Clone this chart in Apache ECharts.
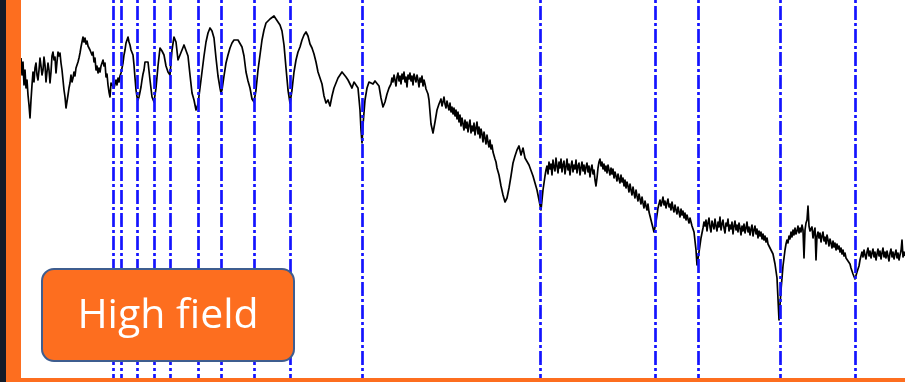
<!DOCTYPE html>
<html>
<head>
<meta charset="utf-8">
<script src="https://cdn.jsdelivr.net/npm/echarts@6/dist/echarts.min.js"></script>
<style>
  html, body { margin: 0; padding: 0; background: #ffffff; }
  #chart { width: 905px; height: 382px; }
</style>
</head>
<body>
<div id="chart"></div>
<script>
// Transmission spectrum: [field channel, signal (arbitrary units)]
const spectrum = [
  [0,320],[1,303],[2,316],[3,293],[4,308],[5,290],[6,298],[7,283],[8,273],[9,260],
  [10,278],[11,293],[12,306],[13,296],[14,310],[15,315],[16,303],[17,298],[18,308],[19,320],
  [20,312],[21,303],[22,308],[23,321],[24,313],[25,296],[26,306],[27,315],[28,308],[29,295],
  [30,306],[31,322],[32,326],[33,318],[34,321],[35,305],[36,316],[37,326],[38,322],[39,325],
  [40,315],[41,308],[42,298],[43,288],[44,281],[45,270],[46,268],[47,283],[48,290],[49,295],
  [50,303],[51,296],[52,300],[53,306],[54,302],[55,310],[56,312],[57,316],[58,320],[59,325],
  [60,331],[61,336],[62,341],[63,336],[64,340],[65,334],[66,337],[67,332],[68,334],[69,328],
  [70,330],[71,323],[72,326],[73,316],[74,320],[75,308],[76,312],[77,305],[78,310],[79,306],
  [80,312],[81,315],[82,318],[83,312],[84,315],[85,301],[86,304],[87,293],[88,286],[89,281],
  [90,295],[91,293],[92,296],[93,290],[94,294],[95,298],[96,293],[97,300],[98,296],[99,302],
  [100,305],[101,310],[102,315],[103,323],[104,328],[105,335],[106,338],[107,341],[108,336],[109,333],
  [110,328],[111,326],[112,323],[113,313],[114,300],[115,288],[116,281],[117,278],[118,281],[119,286],
  [120,291],[121,298],[122,304],[123,308],[124,316],
  [125,318],[127,316],[129,298],[131,281],[133,276],[135,290],[137,312],[139,330],[141,327],[143,323],
  [145,312],[147,306],[149,303],[151,328],[153,341],[155,336],[157,318],[159,320],[161,328],[163,333],
  [165,332],[167,322],[169,303],[171,285],[173,278],[175,268],[176,266],[177,274],[179,290],[181,306],
  [183,322],[185,336],[187,345],[189,350],[191,347],[193,340],[195,320],[197,302],[199,290],[200,285],
  [201,288],[203,302],[205,315],[207,323],[209,330],[211,335],[213,338],[215,340],[217,338],[219,337],
  [221,331],[223,322],[225,306],[227,297],[229,290],[231,279],[233,276],[235,288],[237,308],[239,323],
  [241,338],[243,348],[245,355],[247,357],[249,359],[251,360],[253,362],[255,359],[257,357],[259,353],
  [261,347],[263,333],[265,310],[267,288],[269,275],[271,288],[273,306],[275,318],[277,326],[279,331],
  [281,338],[283,343],[285,346],[287,342],[289,334],[291,330],[293,324],[295,316],[297,306],[299,300],
  [301,294],[303,282],[305,275],[307,278],[309,272],[311,282],[313,290],[315,295],[317,300],[319,303],
  [321,306],[323,304],[325,301],[327,298],[329,294],[331,290],[333,296],[335,296],[337,290],[339,268],
  [340,248],[341,235],[342,253],[344,278],[346,290],[348,296],[350,298],[352,294],[354,297],[356,299],
  [358,292],[360,280],[362,271],[364,276],[366,284],[368,290],
  [370,294],[371,300],[372,296],[373,303],[374,298],[375,292],[376,301],[377,305],[378,297],[379,302],
  [380,294],[381,304],[382,299],[383,306],[384,296],[385,301],[386,291],[387,303],[388,299],[389,305],
  [390,297],[391,302],[392,293],[393,304],[394,300],[395,296],[396,303],[397,298],[398,291],[399,300],
  [400,296],[401,302],[402,292],[403,298],[404,294],[405,289],[406,291],[407,284],[408,278],
  [410,254],[412,245],[414,256],[416,268],[418,274],
  [419,276],[420,279],[421,272],[422,276],[423,281],[424,274],[425,270],[426,277],[427,272],[428,268],
  [429,275],[430,266],[431,271],[432,264],[433,270],[434,262],[435,268],[436,259],[437,266],[438,256],
  [439,263],[440,252],[441,260],[442,254],[443,248],[444,258],[445,250],[446,256],[447,246],[448,253],
  [449,258],[450,245],[451,252],[452,247],[453,255],[454,243],[455,250],[456,256],[457,244],[458,251],
  [459,240],[460,249],[461,244],[462,236],[463,246],[464,240],[465,234],[466,243],[467,236],[468,231],
  [469,238],[470,229],[471,233],[472,226],[473,224],[474,219],[475,216],[476,210],
  [478,203],[480,192],[482,183],[484,176],[486,180],[488,190],[490,202],[492,215],[494,222],[496,228],
  [498,232],[500,223],[502,230],[504,220],[506,222],[508,213],[510,214],[512,202],[514,200],[516,188],
  [518,178],[520,168],[522,188],
  [524,202],[525,208],[526,212],[527,204],[528,216],[529,209],[530,214],[531,203],[532,218],[533,211],
  [534,207],[535,220],[536,212],[537,205],[538,216],[539,210],[540,219],[541,206],[542,213],[543,217],
  [544,204],[545,211],[546,219],[547,208],[548,214],[549,203],[550,212],[551,217],[552,206],[553,213],
  [554,209],[555,218],[556,205],[557,212],[558,215],[559,203],[560,210],[561,216],[562,207],[563,213],
  [564,204],[565,211],[566,215],[567,206],[568,212],[569,201],[570,209],[571,213],[572,204],[573,208],
  [574,198],[575,192],[576,200],[577,210],[578,216],[579,219],[580,212],[581,216],[582,209],[583,214],
  [584,207],[585,212],[586,205],[587,213],[588,208],[589,203],[590,210],[591,204],[592,209],[593,200],
  [594,206],[595,202],[596,197],[597,204],[598,199],[599,195],[600,203],[601,196],[602,200],[603,192],
  [604,198],[605,190],[606,196],[607,192],[608,186],[609,194],[610,188],[611,183],[612,191],[613,185],
  [614,180],[615,188],[616,182],[617,177],[618,184],[619,179],[620,174],[621,181],[622,175],[623,170],
  [624,177],[625,172],[626,168],[627,174],[628,166],[629,162],[630,158],
  [631,158],[633,146],[635,156],[637,170],
  [639,178],[640,172],[641,176],[642,181],[643,173],[644,177],[645,170],[646,175],[647,179],[648,171],
  [649,174],[650,168],[651,176],[652,170],[653,166],[654,173],[655,168],[656,164],[657,171],[658,166],
  [659,161],[660,169],[661,163],[662,167],[663,160],[664,165],[665,158],[666,163],[667,159],[668,155],
  [669,160],[670,156],[671,152],[672,150],[673,146],
  [675,128],[676,113],[678,126],[680,140],
  [682,150],[683,156],[684,152],[685,158],[686,147],[687,155],[688,160],[689,151],[690,146],[691,157],
  [692,153],[693,149],[694,159],[695,152],[696,147],[697,156],[698,151],[699,161],[700,148],[701,154],
  [702,158],[703,150],[704,145],[705,155],[706,152],[707,159],[708,147],[709,153],[710,149],[711,156],
  [712,144],[713,152],[714,157],[715,148],[716,153],[717,146],[718,155],[719,150],[720,143],[721,152],
  [722,147],[723,154],[724,145],[725,150],[726,156],[727,146],[728,151],[729,143],[730,149],[731,153],
  [732,142],[733,148],[734,152],[735,144],[736,149],[737,140],[738,147],[739,142],[740,146],[741,139],
  [742,144],[743,138],[744,142],[745,136],[746,140],[747,134],[748,136],[749,130],
  [750,132],[752,124],[754,114],[756,100],[758,58],[760,88],[762,112],
  [764,128],[765,134],[766,138],[767,135],[768,142],[769,139],[770,146],[771,141],[772,148],[773,143],
  [774,150],[775,144],[776,147],[777,152],[778,145],[779,150],[780,146],[781,153],[782,148],[783,120],
  [784,148],[785,155],[786,158],[787,172],[788,152],[789,147],[790,146],[791,151],[792,140],[793,146],
  [794,150],[795,118],[796,142],[797,146],[798,140],[799,145],[800,136],[801,142],[802,146],[803,137],
  [804,141],[805,134],[806,143],[807,138],[808,132],[809,139],[810,135],[811,130],[812,137],[813,131],
  [814,135],[815,128],[816,134],[817,129],[818,132],[819,126],[820,130],[821,124],[822,128],[823,122],
  [824,125],[825,120],[826,122],[827,117],[828,119],[829,114],
  [830,110],[832,104],[834,99],[836,106],[838,112],
  [839,118],[840,122],[841,126],[842,121],[843,128],[844,123],[845,119],[846,126],[847,130],[848,122],
  [849,127],[850,120],[851,125],[852,129],[853,121],[854,126],[855,118],[856,124],[857,129],[858,122],
  [859,127],[860,119],[861,125],[862,130],[863,121],[864,126],[865,120],[866,127],[867,122],[868,117],
  [869,125],[870,129],[871,121],[872,126],[873,119],[874,124],[875,128],[876,120],[877,125],[878,118],
  [879,123],[880,127],[881,138],[882,121],[883,126],[884,122]
];

// Field positions of the assigned transitions (dash-dot guides)
const transitions = [92, 100, 116, 133, 149, 177, 200, 233, 269, 341, 519.5, 634, 677, 759, 834];

const boxLabel = 'High field';

const ORANGE = '#fd6e1f';

const chart = echarts.init(document.getElementById('chart'), null, { renderer: 'canvas' });

chart.setOption({
  animation: false,
  backgroundColor: '#ffffff',
  grid: { left: 21, right: 0, top: 0, bottom: 4, containLabel: false },
  xAxis: { type: 'value', min: 0, max: 884, show: false },
  yAxis: { type: 'value', min: 0, max: 378, show: false },
  series: [{
    type: 'line',
    data: spectrum,
    showSymbol: false,
    symbol: 'none',
    clip: true,
    lineStyle: { color: '#000000', width: 1.7, join: 'round' },
    z: 2,
    markLine: {
      silent: true,
      symbol: 'none',
      z: 5,
      label: { show: false },
      lineStyle: { color: '#1414ff', width: 2.7, type: [14, 3, 3, 3], dashOffset: 10, opacity: 1 },
      emphasis: { disabled: true },
      data: transitions.map(v => ({ xAxis: v }))
    }
  }],
  graphic: [
    // dark frame strip on the far left
    { type: 'rect', shape: { x: 0, y: 0, width: 6, height: 382 }, style: { fill: '#141b28' }, z: 10 },
    // orange frame: left bar and bottom bar
    { type: 'rect', shape: { x: 6, y: 0, width: 15, height: 382 }, style: { fill: ORANGE }, z: 10 },
    { type: 'rect', shape: { x: 6, y: 378, width: 899, height: 4 }, style: { fill: ORANGE }, z: 10 },
    // label box
    {
      type: 'rect', z: 20,
      shape: { x: 42, y: 269, width: 252, height: 92, r: 12 },
      style: { fill: ORANGE, stroke: '#3e5d8f', lineWidth: 2 }
    },
    {
      type: 'text', z: 21,
      x: 168, y: 316,
      style: {
        text: boxLabel,
        fill: '#ffffff',
        font: '41px "Open Sans", sans-serif',
        textAlign: 'center',
        textVerticalAlign: 'middle'
      }
    }
  ]
});
</script>
</body>
</html>
